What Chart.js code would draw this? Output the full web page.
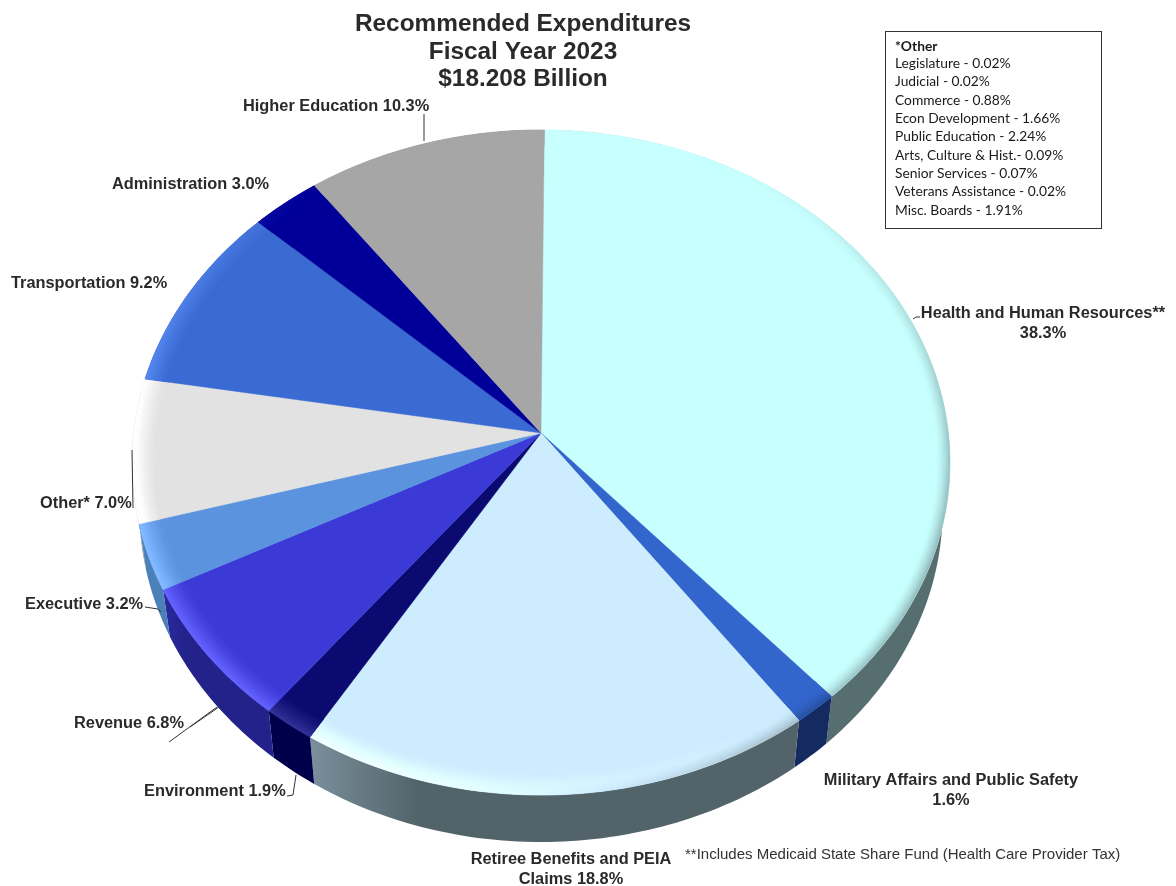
<!DOCTYPE html>
<html>
<head>
<meta charset="utf-8">
<title>Recommended Expenditures</title>
<script src="https://cdn.jsdelivr.net/npm/chart.js@4"></script>
<style>
    html, body { margin: 0; padding: 0; background: #fff; }
    canvas { display: block; }
</style>
</head>
<body>
<canvas id="expenditures-chart" width="1176" height="886"></canvas>
<script>
const categories = ['Health and Human Resources', 'Military Affairs and Public Safety', 'Retiree Benefits and PEIA Claims',
    'Environment', 'Revenue', 'Executive', 'Other', 'Transportation', 'Administration', 'Higher Education'];
const percents = [38.3, 1.6, 18.8, 1.9, 6.8, 3.2, 7.0, 9.2, 3.0, 10.3];
const titleLines = ['Recommended Expenditures', 'Fiscal Year 2023', '$18.208 Billion'];
const otherHeading = '*Other';
const otherLines = ['Legislature - 0.02%', 'Judicial - 0.02%', 'Commerce - 0.88%', 'Econ Development - 1.66%', 'Public Education - 2.24%',
    'Arts, Culture & Hist.- 0.09%', 'Senior Services - 0.07%', 'Veterans Assistance - 0.02%', 'Misc. Boards - 1.91%'];
const footnote = '**Includes Medicaid State Share Fund (Health Care Provider Tax)';

const faceColors = ['#c8ffff', '#3366cc', '#cdecfe', '#0a0a70', '#3c3ad6', '#5b93de', '#e2e2e2', '#3a6bd3', '#000099', '#a6a6a6'];
const sideLight = ['#566e6f', '#142a60', '#7a909c', '#00004a', '#2a2aa0', '#5a90c8', '#888888', '#22448a', '#000066', '#707070'];
const sideDark = ['#566e6f', '#142a60', '#53636a', '#00004a', '#22228a', '#4c80b8', '#888888', '#22448a', '#000066', '#707070'];

// text placed around the pie, x is left edge or centre depending on align
const callouts = [
    { lines: ['Health and Human Resources**', '38.3%'], x: 1043, y: 318, align: 'center' },
    { lines: ['Military Affairs and Public Safety', '1.6%'], x: 951, y: 785, align: 'center' },
    { lines: ['Retiree Benefits and PEIA', 'Claims 18.8%'], x: 571, y: 864, align: 'center' },
    { lines: ['Environment 1.9%'], x: 144, y: 796, align: 'left' },
    { lines: ['Revenue 6.8%'], x: 74, y: 728, align: 'left' },
    { lines: ['Executive 3.2%'], x: 25, y: 609, align: 'left' },
    { lines: ['Other* 7.0%'], x: 40, y: 508, align: 'left' },
    { lines: ['Transportation 9.2%'], x: 11, y: 288, align: 'left' },
    { lines: ['Administration 3.0%'], x: 112, y: 189, align: 'left' },
    { lines: ['Higher Education 10.3%'], x: 243, y: 111, align: 'left' }
];

const leaders = [
    [[424, 114], [424, 141]],
    [[132, 450], [133, 508]],
    [[145, 607], [158, 609], [161, 612]],
    [[169, 742], [217, 707]],
    [[190, 727], [219, 707]],
    [[287, 796], [293, 795], [296, 775]],
    [[913, 319], [916, 317], [920, 317]]
];

// the tilted face: unit circle pushed through a small perspective so the apex sits above the ellipse centre
const RIM_X = 407.4, RIM_Y = 329.9, TILT = 0.0887, DEPTH = 47, BOTTOM_SHRINK = 0.982;

function facePoint(arc, angle, r) {
    const s = Math.sin(angle) * r, c = Math.cos(angle) * r, w = 1 - TILT * s;
    return [arc.x + RIM_X * c / w, arc.y + RIM_Y * s / w];
}

function bottomPoint(arc, angle) {
    const p = facePoint(arc, angle, 1);
    return [arc.x + (p[0] - arc.x) * BOTTOM_SHRINK, p[1] + DEPTH];
}

function anglesOf(arc, stepDeg) {
    const step = stepDeg * Math.PI / 180, out = [];
    for (let a = arc.startAngle; a < arc.endAngle; a += step) out.push(a);
    out.push(arc.endAngle);
    return out;
}

function tracePath(ctx, pts) {
    ctx.beginPath();
    pts.forEach((p, i) => i ? ctx.lineTo(p[0], p[1]) : ctx.moveTo(p[0], p[1]));
    ctx.closePath();
}

function hexToRgb(hex) {
    return [1, 3, 5].map(i => parseInt(hex.substr(i, 2), 16));
}

// rim colour: lit towards the lower left, shaded on the right. u is 0 at the edge, 1 inside
function rimColor(rgb, angle, u) {
    const clockwise = angle + Math.PI / 2;
    const lit = Math.max(0, Math.cos(clockwise - 235 * Math.PI / 180));
    const shade = Math.pow(Math.max(0, Math.cos(clockwise - 115 * Math.PI / 180)), 2);
    const litFall = Math.pow(1 - u, 1.3);
    const shadeFall = Math.pow(Math.max(0, 1 - u * 1.8), 1.5);
    const v = rgb.map(c => Math.min(255, (c + 42 * lit * litFall) * (1 - 0.24 * shade * shadeFall)));
    return `rgb(${v[0] | 0},${v[1] | 0},${v[2] | 0})`;
}

function drawSide(ctx, arc, i) {
    const angles = anglesOf(arc, 1);
    const pts = angles.map(a => facePoint(arc, a, 1)).concat(angles.slice().reverse().map(a => bottomPoint(arc, a)));
    const xs = pts.map(p => p[0]);
    const grad = ctx.createLinearGradient(Math.min(...xs), 0, Math.max(...xs), 0);
    grad.addColorStop(0, sideLight[i]);
    grad.addColorStop(0.22, sideDark[i]);
    grad.addColorStop(1, sideDark[i]);
    tracePath(ctx, pts);
    ctx.fillStyle = grad;
    ctx.fill();
}

function drawFace(ctx, arc, i) {
    const angles = anglesOf(arc, 1);
    const rgb = hexToRgb(faceColors[i]);
    tracePath(ctx, [[arc.x, arc.y]].concat(angles.map(a => facePoint(arc, a, 1))));
    ctx.fillStyle = faceColors[i];
    ctx.strokeStyle = faceColors[i];
    ctx.lineWidth = 0.5;
    ctx.fill();
    ctx.stroke();

    // bevel, thin quads from inside out
    const bands = 10, width = 0.055;
    for (let k = bands - 1; k >= 0; k--) {
        const r0 = 1 - width * k / bands, r1 = 1 - width * (k + 1) / bands;
        for (let j = 0; j < angles.length - 1; j++) {
            const a0 = angles[j], a1 = angles[j + 1];
            tracePath(ctx, [facePoint(arc, a0, r0), facePoint(arc, a1, r0), facePoint(arc, a1, r1), facePoint(arc, a0, r1)]);
            ctx.fillStyle = ctx.strokeStyle = rimColor(rgb, (a0 + a1) / 2, k / bands);
            ctx.lineWidth = 0.4;
            ctx.fill();
            ctx.stroke();
        }
    }
}

function drawText(ctx) {
    ctx.fillStyle = '#2a2a2a';
    ctx.textBaseline = 'alphabetic';

    ctx.font = 'bold 24.4px "Liberation Sans"';
    ctx.textAlign = 'center';
    titleLines.forEach((line, i) => ctx.fillText(line, 523, 31 + i * 27.7));

    ctx.font = 'bold 16.35px "Liberation Sans"';
    callouts.forEach(c => {
        ctx.textAlign = c.align;
        c.lines.forEach((line, i) => ctx.fillText(line, c.x, c.y + i * 19.5));
    });

    ctx.fillStyle = '#333';
    ctx.font = '15px "Liberation Sans"';
    ctx.textAlign = 'left';
    ctx.fillText(footnote, 685, 859);

    ctx.strokeStyle = '#333';
    ctx.lineWidth = 1;
    ctx.strokeRect(885.5, 31.5, 216, 197);
    ctx.fillStyle = '#1a1a1a';
    ctx.font = 'bold 13.8px Lato';
    ctx.fillText(otherHeading, 895, 51);
    ctx.font = '13.8px Lato';
    otherLines.forEach((line, i) => ctx.fillText(line, 895, 68 + i * 18.35));

    ctx.strokeStyle = '#333';
    ctx.lineWidth = 1;
    leaders.forEach(pts => {
        ctx.beginPath();
        pts.forEach((p, i) => i ? ctx.lineTo(p[0], p[1]) : ctx.moveTo(p[0], p[1]));
        ctx.stroke();
    });
}

const tiltedPie = {
    id: 'tiltedPie',
    beforeDatasetDraw(chart, args) {
        const ctx = chart.ctx;
        const arcs = args.meta.data;
        ctx.save();
        arcs.forEach((arc, i) => drawSide(ctx, arc, i));
        arcs.forEach((arc, i) => drawFace(ctx, arc, i));
        ctx.restore();
        return false;
    },
    afterDraw(chart) {
        chart.ctx.save();
        drawText(chart.ctx);
        chart.ctx.restore();
    }
};

new Chart(document.getElementById('expenditures-chart'), {
    type: 'pie',
    data: {
        labels: categories,
        datasets: [{ data: percents, backgroundColor: faceColors, borderWidth: 0 }]
    },
    options: {
        responsive: false,
        animation: false,
        rotation: 0.5,
        layout: { padding: { left: 0, right: 94, top: 0, bottom: 20 } },
        plugins: {
            legend: { display: false },
            title: { display: false },
            tooltip: { enabled: false }
        }
    },
    plugins: [tiltedPie]
});
</script>
</body>
</html>
